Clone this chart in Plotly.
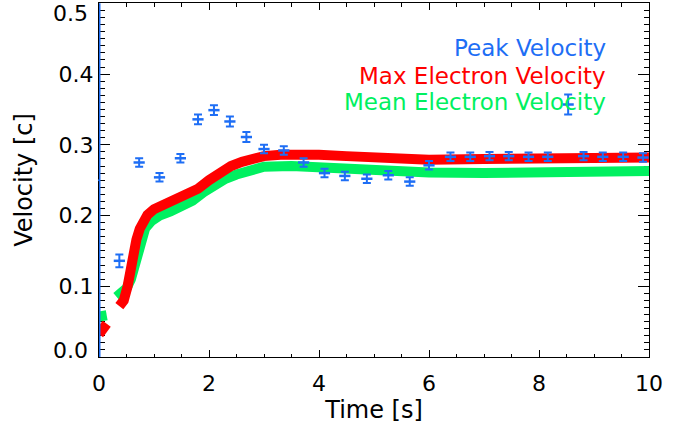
import plotly.graph_objects as go

# ---- data ----
peak_t = [0.37, 0.73, 1.10, 1.48, 1.80, 2.09, 2.38, 2.68, 3.00, 3.36, 3.72, 4.10, 4.47,
          4.87, 5.26, 5.65, 6.00, 6.39, 6.75, 7.10, 7.45, 7.81, 8.16, 8.53, 8.81, 9.16,
          9.53, 9.89]
peak_v = [0.136, 0.275, 0.254, 0.281, 0.336, 0.349, 0.333, 0.311, 0.294, 0.292, 0.275,
          0.260, 0.256, 0.252, 0.257, 0.248, 0.271, 0.283, 0.283, 0.284, 0.284, 0.283,
          0.283, 0.357, 0.284, 0.283, 0.283, 0.282]
peak_err = [0.009, 0.006, 0.006, 0.006, 0.007, 0.007, 0.007, 0.007, 0.006, 0.006, 0.006,
            0.006, 0.006, 0.006, 0.006, 0.006, 0.006, 0.006, 0.006, 0.006, 0.006, 0.006,
            0.006, 0.014, 0.006, 0.006, 0.006, 0.006]
# first peak measurement at t=0 with very large uncertainty
peak0_t = [0.0]
peak0_v = [0.25]
peak0_err = [0.25]

max_t = [0.0, 0.07, 0.14, None,
         0.37, 0.45, 0.52, 0.57, 0.62, 0.68, 0.74, 0.80, 0.88, 1.00, 1.20, 1.40, 1.60,
         1.80, 2.00, 2.20, 2.40, 2.60, 2.80, 3.00, 3.30, 3.60, 4.00, 4.50, 5.00, 5.50,
         5.70, 6.00, 7.00, 8.00, 8.40, 9.00, 10.00]
max_v = [0.032, 0.039, 0.047, None,
         0.072, 0.080, 0.100, 0.125, 0.148, 0.166, 0.181, 0.193, 0.201, 0.209, 0.216,
         0.222, 0.229, 0.238, 0.250, 0.261, 0.270, 0.276, 0.281, 0.284, 0.286, 0.287,
         0.286, 0.284, 0.282, 0.278, 0.277, 0.279, 0.280, 0.280, 0.281, 0.282, 0.282]

mean_t = [0.0, 0.07, 0.14, None,
          0.32, 0.40, 0.50, 0.58, 0.64, 0.70, 0.76, 0.84, 0.95, 1.10, 1.30, 1.50, 1.70,
          1.90, 2.10, 2.30, 2.50, 2.80, 3.00, 3.50, 4.00, 4.50, 5.00, 5.50, 6.00, 7.00,
          8.00, 8.50, 9.00, 10.00]
mean_v = [0.057, 0.058, 0.059, None,
          0.085, 0.090, 0.097, 0.110, 0.130, 0.150, 0.168, 0.182, 0.192, 0.200, 0.206,
          0.213, 0.221, 0.233, 0.244, 0.252, 0.258, 0.265, 0.269, 0.270, 0.268, 0.265,
          0.263, 0.262, 0.261, 0.260, 0.261, 0.2625, 0.263, 0.263]

x_ticks = [0, 2, 4, 6, 8, 10]
y_ticks = [0.0, 0.1, 0.2, 0.3, 0.4, 0.5]
y_ticklabels = ["", "0.1", "0.2", "0.3", "0.4", ""]   # end labels placed inside, IDL-style
y_end_labels = ["0.0", "0.5"]
y_end_label_pos = [0.0095, 0.486]

BLUE = "#1e6ef5"
RED = "#ff0000"
GREEN = "#00f060"
FONT = "DejaVu Sans"

fig = go.Figure()

fig.add_trace(go.Scatter(x=mean_t, y=mean_v, mode="lines",
                         line=dict(color=GREEN, width=10), connectgaps=False,
                         showlegend=False, hoverinfo="skip"))
fig.add_trace(go.Scatter(x=max_t, y=max_v, mode="lines",
                         line=dict(color=RED, width=10), connectgaps=False,
                         showlegend=False, hoverinfo="skip"))
# t=0 peak-velocity point: its error bar spans the whole axis
fig.add_trace(go.Scatter(x=peak0_t, y=peak0_v, mode="markers", cliponaxis=False,
                         marker=dict(size=2, color=BLUE),
                         error_y=dict(type="data", array=peak0_err, color=BLUE,
                                      thickness=3, width=0, visible=True),
                         showlegend=False))
fig.add_trace(go.Scatter(x=peak_t, y=peak_v, mode="markers",
                         marker=dict(symbol="line-ew", size=8, color=BLUE,
                                     line=dict(color=BLUE, width=2.5)),
                         error_y=dict(type="data", array=peak_err, color=BLUE,
                                      thickness=2, width=4),
                         showlegend=False))

labels = [("Peak Velocity", BLUE, 0.4363),
          ("Max Electron Velocity", RED, 0.3967),
          ("Mean Electron Velocity", GREEN, 0.360)]
for txt, col, yv in labels:
    fig.add_annotation(x=9.26, y=yv, xref="x", yref="y", text=txt, showarrow=False,
                       xanchor="right", yanchor="middle",
                       font=dict(family=FONT, size=23, color=col))

for txt, yv in zip(y_end_labels, y_end_label_pos):
    fig.add_annotation(x=-0.0164, y=yv, xref="paper", yref="y", text=txt,
                       showarrow=False, xanchor="right", yanchor="middle",
                       font=dict(family=FONT, size=22, color="black"))

axis_common = dict(showline=True, linecolor="black", linewidth=1, mirror="allticks",
                   ticks="inside", tickcolor="black", showgrid=False, zeroline=False,
                   automargin=False, layer="below traces",
                   tickfont=dict(family=FONT, size=22, color="black"),
                   title_font=dict(family=FONT, size=24, color="black"))

fig.update_xaxes(range=[0, 10], tickvals=x_ticks, ticklen=7, tickwidth=1,
                 minor=dict(dtick=0.5, ticklen=3.5, ticks="inside", tickcolor="black"),
                 ticklabelstandoff=7,
                 title_text="Time [s]", title_standoff=4, **axis_common)
fig.update_yaxes(range=[0, 0.5005], tickvals=y_ticks, ticktext=y_ticklabels, ticklen=11,
                 tickwidth=1,
                 minor=dict(dtick=0.01, ticklen=5.5, ticks="inside", tickcolor="black"),
                 title_text="Velocity [c]", title_standoff=19, **axis_common)

fig.update_layout(width=689, height=431, margin=dict(l=99, r=40, t=3, b=74),
                  plot_bgcolor="white", paper_bgcolor="white", showlegend=False)

fig.write_html("out.html", config={"displayModeBar": False},
               post_script="document.body.style.margin='0px';")
